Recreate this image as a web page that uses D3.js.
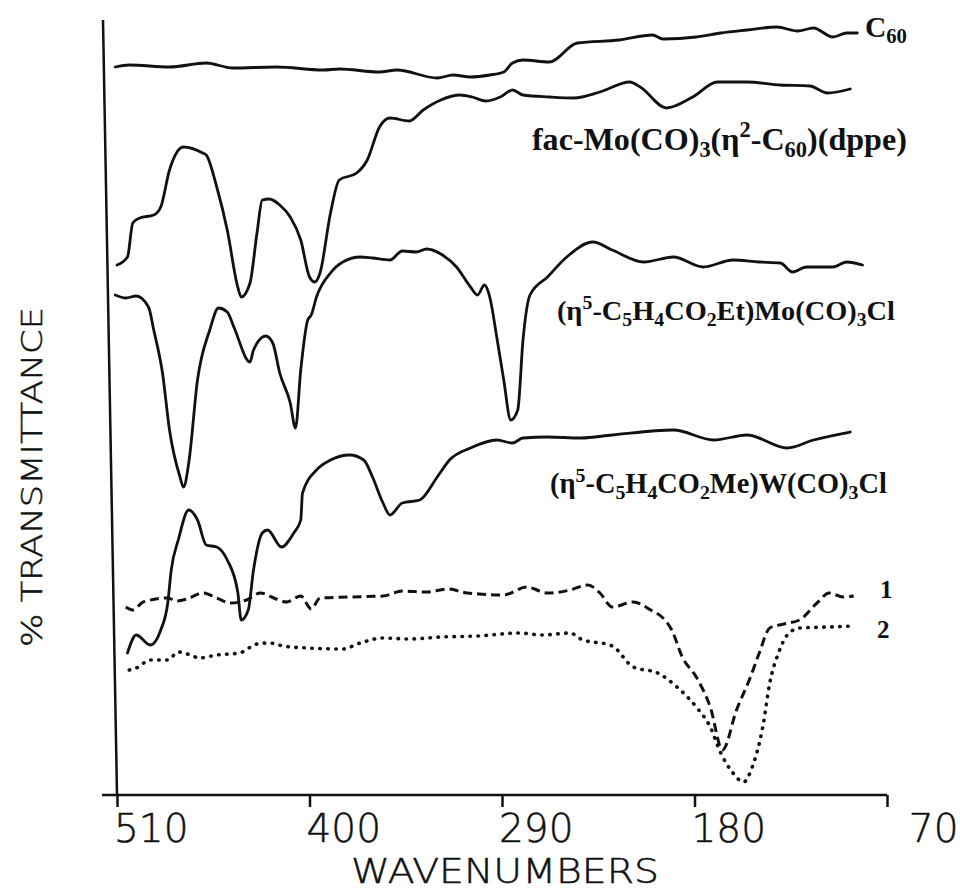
<!DOCTYPE html>
<html>
<head>
<meta charset="utf-8">
<script src="https://cdnjs.cloudflare.com/ajax/libs/d3/7.8.5/d3.min.js"></script>
<style>
  body { margin: 0; background: #fff; }
  svg { display: block; }
</style>
</head>
<body>
<div class="chart"></div>
<script>
// x ticks (wavenumbers, reversed axis)
const tickVals = [510, 400, 290, 180, 70];

// C60
const c60Wn = [511,503,480,459,444,419,392,383,360,350,327,318,308,297,289,284,278,263,247,223,204,198,179,165,150,133,121,112,101,93,87];
const c60T = [145.6,146,145.6,146.4,145.4,145.6,145,145.2,144.6,145,143.4,144,143.6,144,144.6,146.4,147,146.6,150.4,151,152,151.2,151.6,152.4,153,153.6,152.8,153.4,151.6,152.4,152.4];

// fac-Mo(CO)3(eta2-C60)(dppe)
const facWn = [510,504,501,497,489,485,480,472,461,459,453,447,441,439,434,430,427,423,417,411,405,400,397,394,388,383,373,367,360,354,343,335,325,314,307,299,291,284,278,263,249,234,217,211,196,181,167,150,131,114,104,91];
const facT = [106,107.6,114.4,115.4,116,117.6,125,129.6,128.4,128,121.6,113,101.6,99.6,102.4,112.4,119,119.2,118,115.6,111,103.6,102.6,104.4,116.4,123,124.4,127,133.6,135.4,134.8,137,139,140,139.6,138.8,139.6,141,140,139.6,139.4,140.6,142.6,141.6,137.4,139.6,142.6,142.6,142,141.8,140.4,141.2];

// (eta5-C5H4CO2Et)Mo(CO)3Cl
const etWn = [511,505,499,492,489,484,480,474,472,469,464,457,452,447,443,434,432,425,421,417,411,408,405,401,399,396,388,381,371,364,354,347,339,333,324,316,308,304,300,297,293,289,285,281,278,274,264,253,238,227,209,192,175,158,143,131,124,116,101,93,84];
const etT = [100,99.4,99.8,97.6,93,84.4,73,63.6,61.6,66.4,83,93,97.4,96.6,93.4,86.6,89,91.8,90.4,84.4,78.4,73.4,85,95,96,99.6,104.4,106.6,107.6,107.4,107,108.8,108.6,109.2,108,105.6,101.6,100,102,99.6,91.6,83,75,77,91,100,103.6,107.6,110.6,109,106.6,107.6,105.6,107,106.6,106.4,104.6,105.6,105.6,106.6,106];

// (eta5-C5H4CO2Me)W(CO)3Cl
const wWn = [504,499,491,485,481,479,475,469,464,459,453,447,441,439,435,432,427,424,416,409,405,404,396,388,377,369,364,358,354,347,337,327,320,308,293,284,278,264,245,227,192,169,150,127,112,91];
const wT = [28.4,32,30,33,38.4,45,51,57,55,50,49.6,47,40.6,35,37,45,52.4,53,49.6,52.4,55,60.4,65,67,68,67,63.6,58.4,56,58.4,59,63.6,67,69.4,71,70.4,71.4,71.6,71.4,72,73,71,72,69.4,71,72.6];

// sample 1 (dashed)
const s1Wn = [505,501,495,481,476,470,461,453,445,436,428,419,413,405,399,394,377,358,347,333,321,310,303,289,276,264,251,241,234,227,215,205,198,193,187,179,171,164,156,148,143,137,129,120,110,103,95,89];
const s1T = [37.6,37,38.6,39.4,38.8,39.2,40.4,39.4,38.4,39,40.4,39.2,38.6,39.8,37.2,39.4,39.6,39.8,40.8,40.6,41.2,40.4,40.2,40,41.6,40.4,41,42,40.4,37.6,38.6,37,35.4,33,27.6,23.6,17.6,9,17,23.6,28.4,33.4,34.2,35,38.4,40.4,39.6,39.8];

// sample 2 (dotted)
const s2Wn = [503,499,491,481,475,468,463,453,440,430,423,415,401,381,371,358,343,325,304,280,267,251,245,227,215,201,190,179,171,165,158,152,147,141,137,132,127,120,103,89];
const s2T = [25,25.4,27,27,28.6,28,27.4,28,28.4,30.2,30.4,29.8,29.4,29.2,30.4,31.4,31.2,31.6,31.8,32.4,32,32.4,31.2,29.8,25.6,24.4,21.6,17.6,13.6,8.4,4.4,2.6,5.6,13.6,22.4,28.4,32,33.4,33.6,33.8];

// trace labels: text pieces, start/end wavenumber, baseline %T
const labels = [
  { parts: [["C",""],["60","sub"]], wn0: 82.6, wn1: 58.6, t: 151.6 },
  { parts: [["fac-Mo(CO)",""],["3","sub"],["(η",""],["2","sup"],["-C",""],["60","sub"],[")(dppe)",""]], wn0: 272.9, wn1: 58.6, t: 129 },
  { parts: [["(η",""],["5","sup"],["-C",""],["5","sub"],["H",""],["4","sub"],["CO",""],["2","sub"],["Et)Mo(CO)",""],["3","sub"],["Cl",""]], wn0: 258.6, wn1: 65.4, t: 95 },
  { parts: [["(η",""],["5","sup"],["-C",""],["5","sub"],["H",""],["4","sub"],["CO",""],["2","sub"],["Me)W(CO)",""],["3","sub"],["Cl",""]], wn0: 262.6, wn1: 70, t: 60.4 },
  { parts: [["1",""]], wn0: 74, wn1: null, t: 39.4 },
  { parts: [["2",""]], wn0: 75.7, wn1: null, t: 31.4 }
];

const width = 960;
const height = 892;
const plotFont = "'DejaVu Sans', 'DejaVu Sans Mono', sans-serif";

const svg = d3.select(".chart")
  .append("svg")
  .attr("width", width)
  .attr("height", height);

const x = d3.scaleLinear().domain([510, 70]).range([117, 887]);
const y = d3.scaleLinear().domain([0, 155]).range([795, 20]);

// x axis
const xAxis = d3.axisBottom(x)
  .tickValues(tickVals)
  .tickSize(12)
  .tickSizeOuter(0)
  .tickFormat(d3.format("d"));

const gx = svg.append("g")
  .attr("transform", `translate(0, ${y(0)})`)
  .call(xAxis)
  .attr("font-family", plotFont)
  .attr("font-weight", 200)
  .attr("font-size", 39);

gx.select(".domain")
  .attr("d", `M${x(510) - 15},0H${x(70)}`)
  .attr("stroke", "#111")
  .attr("stroke-width", 2.5);

gx.selectAll(".tick line")
  .attr("stroke", "#111")
  .attr("stroke-width", 2.5);

gx.selectAll(".tick text")
  .attr("fill", "#111")
  .attr("stroke", "#111")
  .attr("stroke-width", 0.5)
  .attr("text-anchor", "end")
  .attr("x", 71)
  .attr("y", 47)
  .attr("dy", 0);

// y axis (slightly skewed like the scan)
svg.append("line")
  .attr("x1", x(510) - 14)
  .attr("y1", y(155))
  .attr("x2", x(510))
  .attr("y2", y(0))
  .attr("stroke", "#111")
  .attr("stroke-width", 2.5);

// axis titles
svg.append("text")
  .attr("x", 351)
  .attr("y", 883)
  .attr("font-family", plotFont)
  .attr("font-weight", 200)
  .attr("font-size", 34)
  .attr("textLength", 308)
  .attr("lengthAdjust", "spacingAndGlyphs")
  .attr("fill", "#111")
  .attr("stroke", "#111")
  .attr("stroke-width", 0.5)
  .text("WAVENUMBERS");

svg.append("text")
  .attr("transform", "translate(42, 477) rotate(-90)")
  .attr("text-anchor", "middle")
  .attr("font-family", plotFont)
  .attr("font-weight", 200)
  .attr("font-size", 28)
  .attr("textLength", 340)
  .attr("lengthAdjust", "spacingAndGlyphs")
  .attr("fill", "#111")
  .attr("stroke", "#111")
  .attr("stroke-width", 0.5)
  .text("% TRANSMITTANCE");

// traces
const series = [
  { wn: c60Wn, t: c60T, dash: null, cap: "round", w: 2.8 },
  { wn: facWn, t: facT, dash: null, cap: "round", w: 2.8 },
  { wn: etWn, t: etT, dash: null, cap: "round", w: 2.8 },
  { wn: wWn, t: wT, dash: null, cap: "round", w: 2.8 },
  { wn: s1Wn, t: s1T, dash: "9,5", cap: "butt", w: 3 },
  { wn: s2Wn, t: s2T, dash: "0.5,7.5", cap: "round", w: 3.6 }
];

const line = d3.line()
  .x(d => x(d[0]))
  .y(d => y(d[1]))
  .curve(d3.curveMonotoneX);

svg.append("g")
  .selectAll("path")
  .data(series)
  .enter()
  .append("path")
  .attr("d", s => line(s.wn.map((w, i) => [w, s.t[i]])))
  .attr("fill", "none")
  .attr("stroke", "#111")
  .attr("stroke-width", s => s.w)
  .attr("stroke-linecap", s => s.cap)
  .attr("stroke-linejoin", "round")
  .attr("stroke-dasharray", s => s.dash);

// labels with sub/superscripts, fitted to the width they take in the figure
function drawLabel(lab, fs) {
  const t = svg.append("text")
    .attr("x", x(lab.wn0))
    .attr("y", y(lab.t))
    .attr("font-family", "'Liberation Serif', 'Times New Roman', serif")
    .attr("font-weight", "bold")
    .attr("font-size", fs)
    .attr("fill", "#111");
  let shift = 0;
  lab.parts.forEach(p => {
    const target = p[1] === "sub" ? 0.22 * fs : p[1] === "sup" ? -0.4 * fs : 0;
    t.append("tspan")
      .attr("dy", target - shift)
      .attr("font-size", p[1] ? fs * 0.7 : fs)
      .text(p[0]);
    shift = target;
  });
  return t;
}

labels.forEach(lab => {
  let fs = 25;
  let t = drawLabel(lab, fs);
  if (lab.wn1 !== null) {
    const want = x(lab.wn1) - x(lab.wn0);
    const got = t.node().getComputedTextLength();
    t.remove();
    fs = fs * want / got;
    t = drawLabel(lab, fs);
  }
});
</script>
</body>
</html>
